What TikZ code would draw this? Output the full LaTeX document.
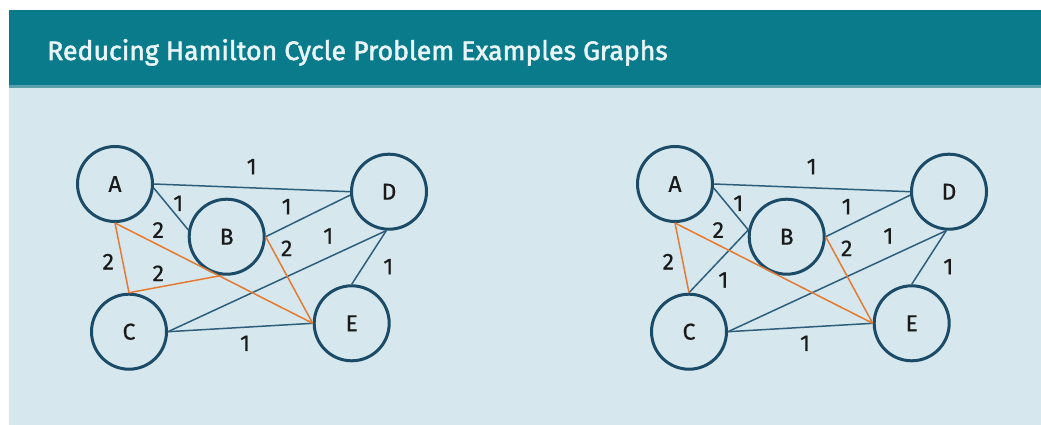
\documentclass[tikz,border=0pt]{standalone}
\usepackage{fontspec}
\setmainfont{Fira Sans}
\newfontfamily\medfont{Fira Sans}[FakeBold=0.6]
\newfontfamily\titlefont{Fira Sans}[FakeBold=2]
\definecolor{hdr}{HTML}{0A7B8B}
\definecolor{bgc}{HTML}{D6E8EE}
\definecolor{stripe}{HTML}{5A9FAA}
\definecolor{ring}{HTML}{1B4B66}
\definecolor{edgec}{HTML}{2D5F7C}
\definecolor{orng}{HTML}{E57A34}
\definecolor{txt}{HTML}{1A1A1A}
\definecolor{ttxt}{HTML}{E8F4F6}
\tikzset{
  vtx/.style={circle,draw=ring,line width=3pt,minimum size=75pt,inner sep=0pt,font=\medfont\fontsize{23}{26}\selectfont,text=txt},
  bl/.style={draw=edgec,line width=1.5pt},
  og/.style={draw=orng,line width=1.5pt},
  wt/.style={font=\medfont\fontsize{23}{26}\selectfont,text=txt,inner sep=0pt},
}
\begin{document}
\begin{tikzpicture}[x=1pt,y=-1pt]
\useasboundingbox (0,0) rectangle (1041,425);
\fill[bgc] (9,10) rectangle (1041,425);
\fill[stripe] (9,84) rectangle (1041,88);
\fill[hdr] (9,10) rectangle (1041,85);
\node[anchor=base west,text=ttxt,inner sep=0pt,font=\titlefont\fontsize{26.7}{31}\selectfont] (title) at (47,60) {Reducing Hamilton Cycle Problem Examples Graphs};

% graph 1
\node[vtx] (A1) at (115,184) {A};
\node[vtx] (B1) at (226.7,236.7) {B};
\node[vtx] (C1) at (129,331.7) {C};
\node[vtx] (D1) at (389,191.7) {D};
\node[vtx] (E1) at (351.7,323.3) {E};
\draw[bl] (A1.east) -- (D1.west);
\draw[bl] (A1.-6) -- (B1.170);
\draw[bl] (B1.east) -- (D1.185);
\draw[bl] (C1.east) -- (D1.266);
\draw[bl] (C1.east) -- (E1.west);
\draw[bl] (D1.266) -- (E1.north);
\draw[og] (A1.south) -- (E1.west);
\draw[og] (A1.south) -- (C1.north);
\draw[og] (C1.north) -- (B1.263);
\draw[og] (B1.east) -- (E1.west);
\node[wt] (w1ad) at (251.7,166.7) {1};
\node[wt] (w1ab) at (178.3,203.3) {1};
\node[wt] (w1ae) at (158.3,230) {2};
\node[wt] (w1bd) at (286.7,206.7) {1};
\node[wt] (w1be) at (286.7,248.3) {2};
\node[wt] (w1cd) at (328.3,236) {1};
\node[wt] (w1de) at (388.3,266.7) {1};
\node[wt] (w1ac) at (108.3,261.7) {2};
\node[wt] (w1cb) at (158.3,273.3) {2};
\node[wt] (w1ce) at (245,343.3) {1};

% graph 2
\node[vtx] (A2) at (675,184) {A};
\node[vtx] (B2) at (786.7,236.7) {B};
\node[vtx] (C2) at (689,331.7) {C};
\node[vtx] (D2) at (949,191.7) {D};
\node[vtx] (E2) at (911.7,323.3) {E};
\draw[bl] (A2.east) -- (D2.west);
\draw[bl] (A2.-6) -- (B2.170);
\draw[bl] (B2.east) -- (D2.185);
\draw[bl] (C2.east) -- (D2.266);
\draw[bl] (C2.east) -- (E2.west);
\draw[bl] (D2.266) -- (E2.north);
\draw[bl] (C2.north) -- (B2.170);
\draw[og] (A2.south) -- (E2.west);
\draw[og] (A2.south) -- (C2.north);
\draw[og] (B2.east) -- (E2.west);
\node[wt] (w2ad) at (811.7,166.7) {1};
\node[wt] (w2ab) at (738.3,203.3) {1};
\node[wt] (w2ae) at (718.3,230) {2};
\node[wt] (w2bd) at (846.7,206.7) {1};
\node[wt] (w2be) at (846.7,248.3) {2};
\node[wt] (w2cd) at (888.3,236) {1};
\node[wt] (w2de) at (948.3,266.7) {1};
\node[wt] (w2ac) at (668.3,261.7) {2};
\node[wt] (w2cb) at (723.3,280) {1};
\node[wt] (w2ce) at (805,343.3) {1};
\end{tikzpicture}
\end{document}
